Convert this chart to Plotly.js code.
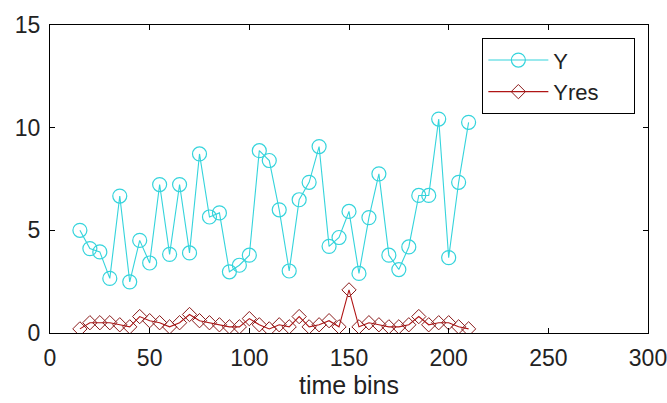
<!DOCTYPE html>
<html>
<head>
<meta charset="utf-8">
<script src="https://cdn.plot.ly/plotly-3.0.1.min.js"></script>
<style>html,body{margin:0;padding:0;background:#fff;}#chart{width:667px;height:403px;}</style>
</head>
<body>
<div id="chart"></div>
<script>
var timeBins = [15,20,25,30,35,40,45,50,55,60,65,70,75,80,85,90,95,100,105,110,115,120,125,130,135,140,145,150,155,160,165,170,175,180,185,190,195,200,205,210];
var yValues = [5.0,4.11,3.95,2.66,6.67,2.49,4.51,3.41,7.23,3.83,7.23,3.90,8.72,5.65,5.85,2.98,3.30,3.79,8.88,8.40,6.0,3.02,6.49,7.34,9.08,4.22,4.65,5.92,2.90,5.62,7.75,3.79,3.09,4.19,6.70,6.70,10.42,3.67,7.34,10.26];
var yresValues = [0.2,0.5,0.5,0.5,0.4,0.3,0.8,0.6,0.5,0.3,0.5,0.9,0.6,0.5,0.4,0.3,0.3,0.7,0.4,0.2,0.4,0.3,0.8,0.3,0.4,0.6,0.3,2.1,0.3,0.5,0.4,0.3,0.3,0.4,0.8,0.4,0.5,0.5,0.3,0.2];
var xTicks = [0,50,100,150,200,250,300];
var yTicks = [0,5,10,15];
var seriesNames = ['Y', 'Yres'];

var traces = [
  {x: timeBins, y: yValues, name: seriesNames[0] + '\u00a0\u00a0\u00a0\u00a0\u00a0\u00a0\u00a0\u00a0\u00a0\u00a0', mode: 'lines+markers', type: 'scatter',
   line: {color: '#35d4dc', width: 1.1},
   marker: {symbol: 'circle-open', size: 14, color: '#35d4dc', line: {width: 1.2}}},
  {x: timeBins, y: yresValues, name: seriesNames[1] + '\u00a0\u00a0', mode: 'lines+markers', type: 'scatter',
   line: {color: '#b01515', width: 1.1},
   marker: {symbol: 'diamond-open', size: 11, color: '#8a1a1a', line: {width: 1}}}
];

var layout = {
  width: 667, height: 403,
  margin: {l: 50, r: 19, t: 25, b: 70},
  paper_bgcolor: '#fff', plot_bgcolor: '#fff',
  font: {family: 'Liberation Sans, Arial, sans-serif', color: '#222', size: 22},
  showlegend: true,
  legend: {x: 0.723, y: 0.957, xanchor: 'left', yanchor: 'top',
           bgcolor: '#fff', bordercolor: '#000', borderwidth: 1,
           font: {size: 22, color: '#222'}, tracegroupgap: 0, itemwidth: 60},
  xaxis: {range: [0, 300], tickvals: xTicks, ticktext: xTicks.map(String),
          ticks: 'inside', ticklen: 5, tickcolor: '#000', showline: true, linecolor: '#000', linewidth: 1,
          mirror: 'ticks', showgrid: false, zeroline: false, ticklabelstandoff: 4,
          ticklabeloverflow: 'allow',
          tickfont: {size: 23}, title: {text: 'time bins', font: {size: 25}, standoff: 4}},
  yaxis: {range: [0, 15], tickvals: yTicks, ticktext: yTicks.map(String),
          ticks: 'inside', ticklen: 5, tickcolor: '#000', showline: true, linecolor: '#000', linewidth: 1,
          mirror: 'ticks', showgrid: false, zeroline: false, ticklabelstandoff: 4,
          ticklabeloverflow: 'allow',
          tickfont: {size: 23}}
};

Plotly.newPlot('chart', traces, layout, {displayModeBar: false, staticPlot: true});
</script>
</body>
</html>
